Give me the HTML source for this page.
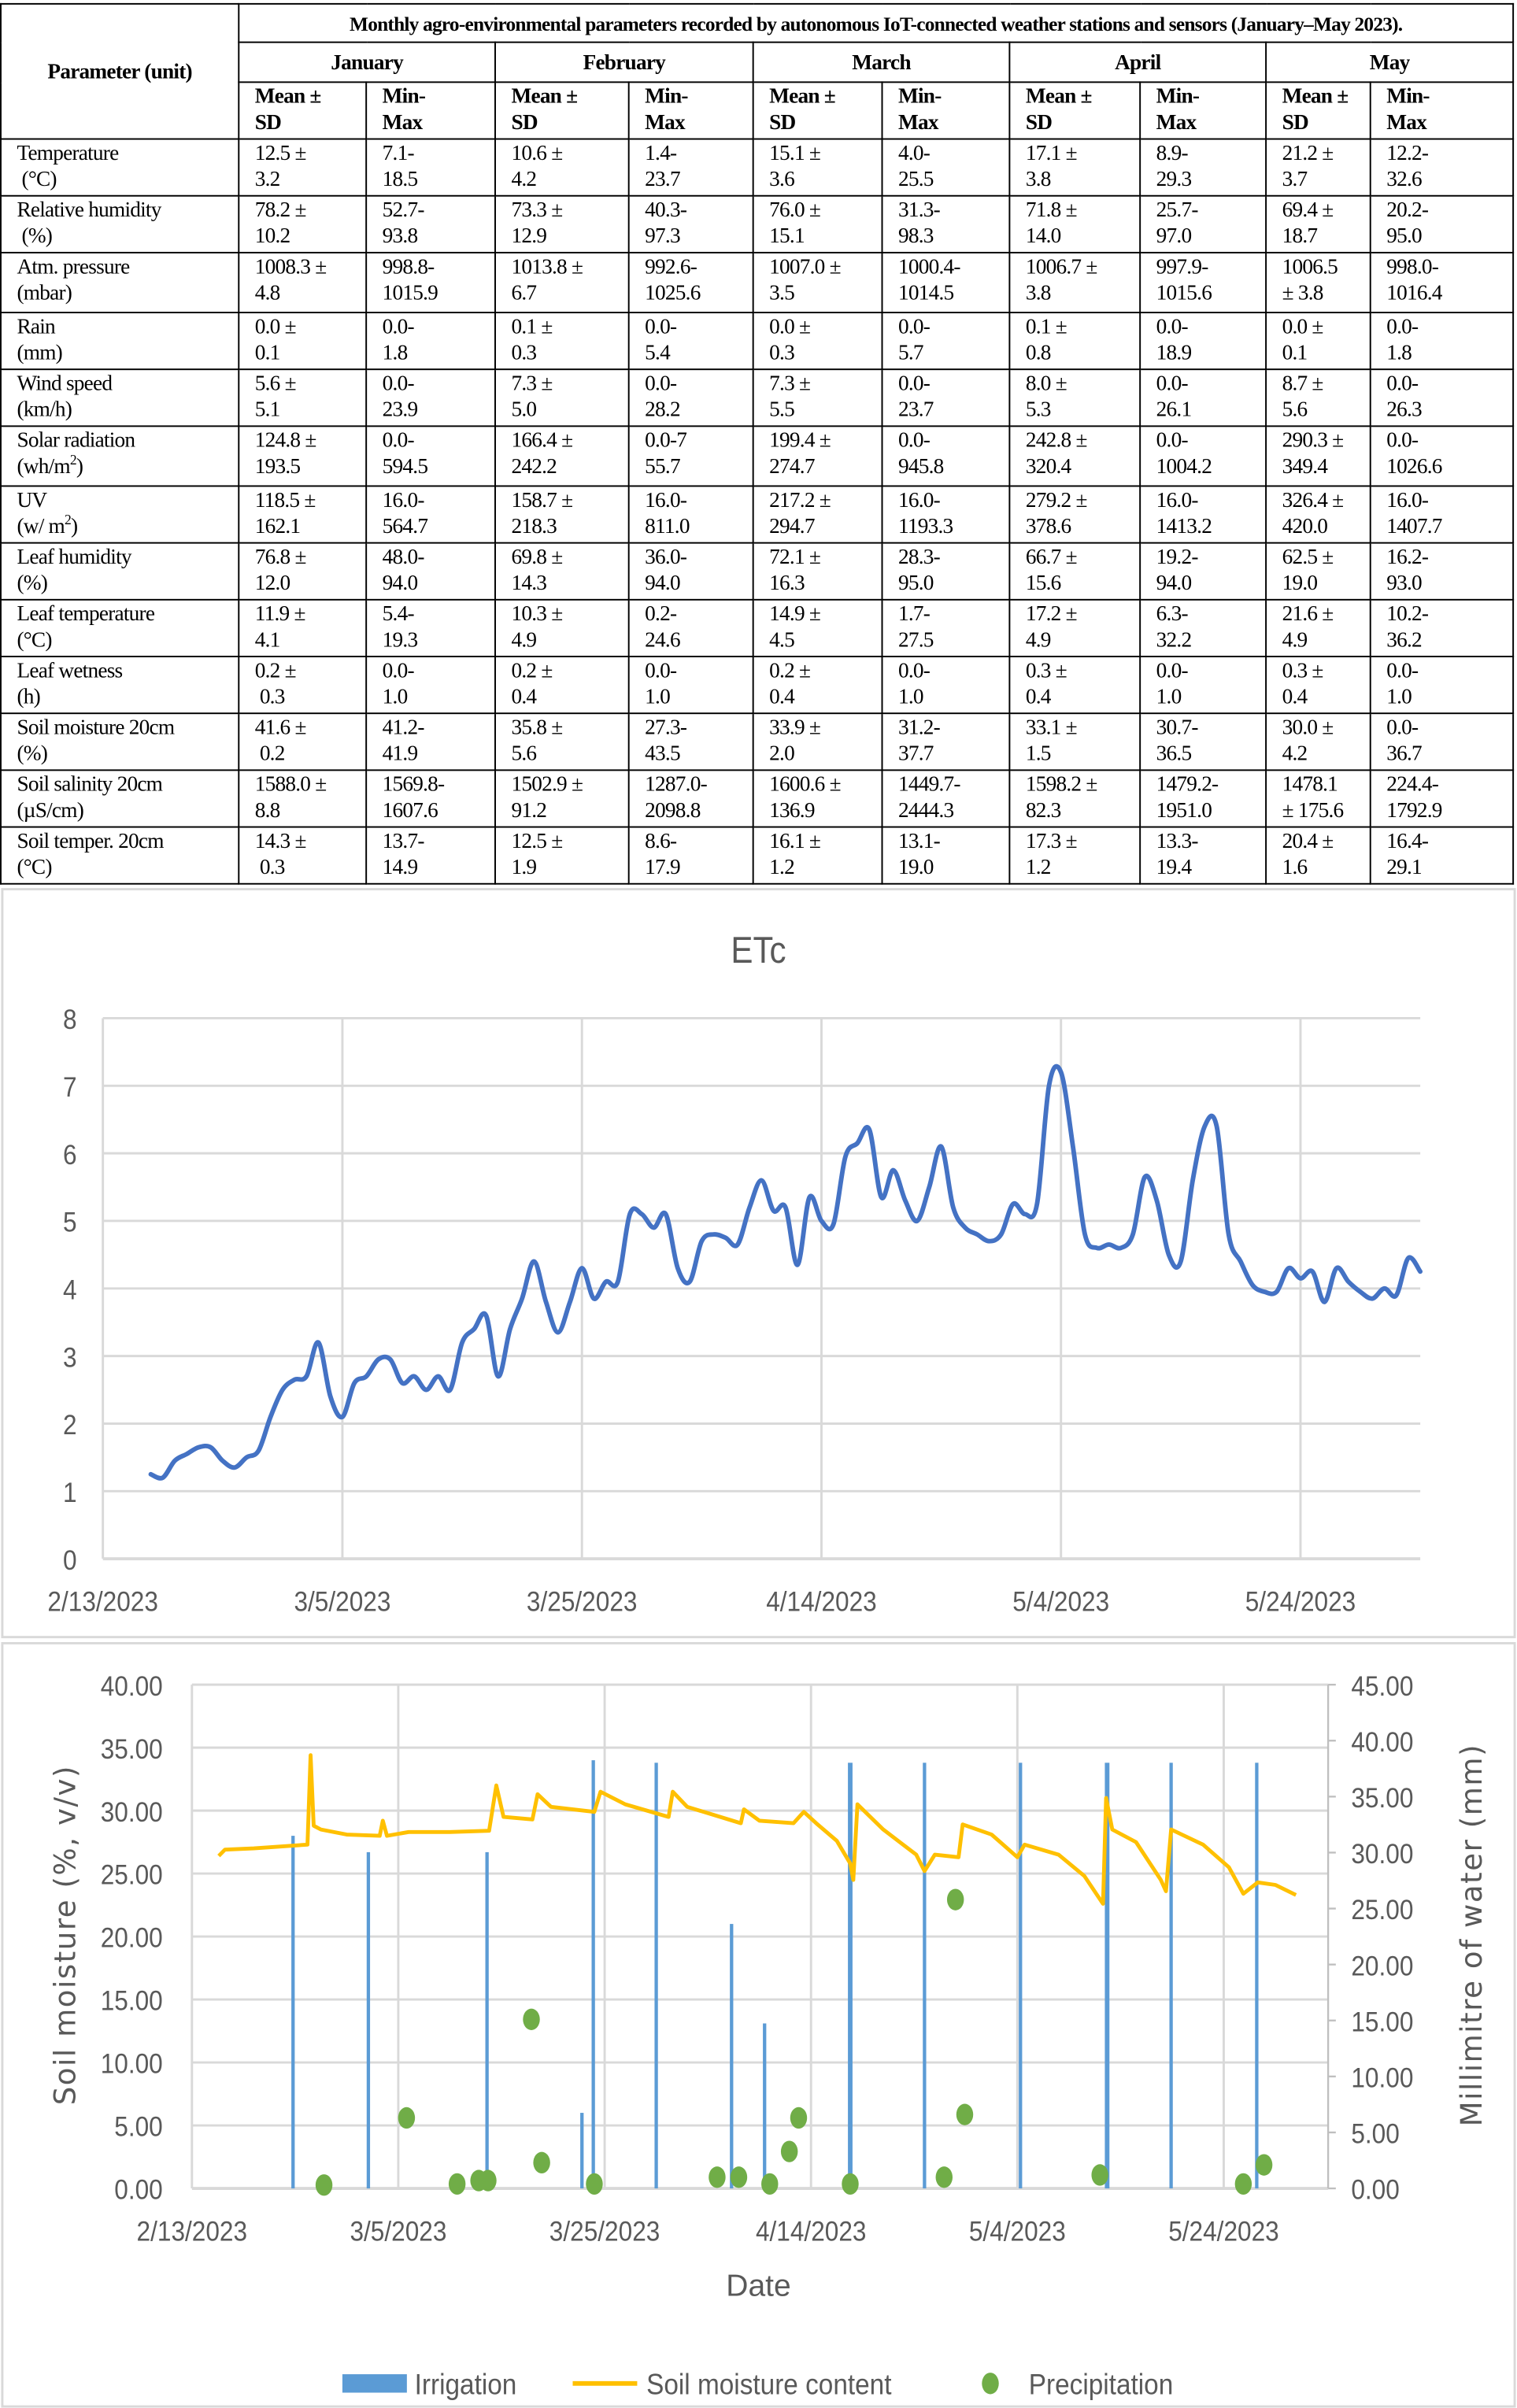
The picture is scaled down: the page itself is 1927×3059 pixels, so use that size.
<!DOCTYPE html>
<html><head><meta charset="utf-8">
<style>
html,body{margin:0;padding:0;background:#fff;}
body{width:1927px;height:3059px;overflow:hidden;position:relative;}
#wrap{position:absolute;left:0;top:0;width:988px;height:1568px;transform-origin:0 0;transform:scale(1.9504,1.9509);}
table{position:absolute;left:0;top:2px;border-collapse:collapse;table-layout:fixed;font-family:"Liberation Serif",serif;font-size:14px;line-height:17px;letter-spacing:-0.4px;color:#000;}
td,th{border:1.5px solid #000;padding:1px 0 0 10px;vertical-align:top;text-align:left;overflow:hidden;white-space:nowrap;}
th{font-weight:bold;}
th.c{text-align:center;padding-left:0;vertical-align:middle;}
.title{font-size:13px;}
svg text{font-family:"Liberation Sans",sans-serif;}
</style></head>
<body>
<div id="wrap">
<table>
<colgroup><col style="width:155px"><col style="width:83px"><col style="width:84px"><col style="width:87px"><col style="width:81px"><col style="width:84px"><col style="width:83px"><col style="width:85px"><col style="width:82px"><col style="width:68px"><col style="width:93px"></colgroup>
<tr style="height:25px"><th class="c" rowspan="3">Parameter (unit)</th><th class="c title" colspan="10">Monthly agro-environmental parameters recorded by autonomous IoT-connected weather stations and sensors (January–May 2023).</th></tr>
<tr style="height:26px"><th class="c" colspan="2">January</th><th class="c" colspan="2">February</th><th class="c" colspan="2">March</th><th class="c" colspan="2">April</th><th class="c" colspan="2">May</th></tr>
<tr style="height:37px"><th>Mean ±<br>SD</th><th>Min-<br>Max</th><th>Mean ±<br>SD</th><th>Min-<br>Max</th><th>Mean ±<br>SD</th><th>Min-<br>Max</th><th>Mean ±<br>SD</th><th>Min-<br>Max</th><th>Mean ±<br>SD</th><th>Min-<br>Max</th></tr>
<tr style="height:37px"><td>Temperature<br>&nbsp;(°C)</td><td>12.5 ±<br>3.2</td><td>7.1-<br>18.5</td><td>10.6 ±<br>4.2</td><td>1.4-<br>23.7</td><td>15.1 ±<br>3.6</td><td>4.0-<br>25.5</td><td>17.1 ±<br>3.8</td><td>8.9-<br>29.3</td><td>21.2 ±<br>3.7</td><td>12.2-<br>32.6</td></tr>
<tr style="height:37px"><td>Relative humidity<br>&nbsp;(%)</td><td>78.2 ±<br>10.2</td><td>52.7-<br>93.8</td><td>73.3 ±<br>12.9</td><td>40.3-<br>97.3</td><td>76.0 ±<br>15.1</td><td>31.3-<br>98.3</td><td>71.8 ±<br>14.0</td><td>25.7-<br>97.0</td><td>69.4 ±<br>18.7</td><td>20.2-<br>95.0</td></tr>
<tr style="height:39px"><td>Atm. pressure<br>(mbar)</td><td>1008.3 ±<br>4.8</td><td>998.8-<br>1015.9</td><td>1013.8 ±<br>6.7</td><td>992.6-<br>1025.6</td><td>1007.0 ±<br>3.5</td><td>1000.4-<br>1014.5</td><td>1006.7 ±<br>3.8</td><td>997.9-<br>1015.6</td><td>1006.5<br>± 3.8</td><td>998.0-<br>1016.4</td></tr>
<tr style="height:37px"><td>Rain<br>(mm)</td><td>0.0 ±<br>0.1</td><td>0.0-<br>1.8</td><td>0.1 ±<br>0.3</td><td>0.0-<br>5.4</td><td>0.0 ±<br>0.3</td><td>0.0-<br>5.7</td><td>0.1 ±<br>0.8</td><td>0.0-<br>18.9</td><td>0.0 ±<br>0.1</td><td>0.0-<br>1.8</td></tr>
<tr style="height:37px"><td>Wind speed<br>(km/h)</td><td>5.6 ±<br>5.1</td><td>0.0-<br>23.9</td><td>7.3 ±<br>5.0</td><td>0.0-<br>28.2</td><td>7.3 ±<br>5.5</td><td>0.0-<br>23.7</td><td>8.0 ±<br>5.3</td><td>0.0-<br>26.1</td><td>8.7 ±<br>5.6</td><td>0.0-<br>26.3</td></tr>
<tr style="height:39px"><td>Solar radiation<br>(wh/m<sup style="font-size:9px;line-height:0">2</sup>)</td><td>124.8 ±<br>193.5</td><td>0.0-<br>594.5</td><td>166.4 ±<br>242.2</td><td>0.0-7<br>55.7</td><td>199.4 ±<br>274.7</td><td>0.0-<br>945.8</td><td>242.8 ±<br>320.4</td><td>0.0-<br>1004.2</td><td>290.3 ±<br>349.4</td><td>0.0-<br>1026.6</td></tr>
<tr style="height:37px"><td>UV<br>(w/ m<sup style="font-size:9px;line-height:0">2</sup>)</td><td>118.5 ±<br>162.1</td><td>16.0-<br>564.7</td><td>158.7 ±<br>218.3</td><td>16.0-<br>811.0</td><td>217.2 ±<br>294.7</td><td>16.0-<br>1193.3</td><td>279.2 ±<br>378.6</td><td>16.0-<br>1413.2</td><td>326.4 ±<br>420.0</td><td>16.0-<br>1407.7</td></tr>
<tr style="height:37px"><td>Leaf humidity<br>(%)</td><td>76.8 ±<br>12.0</td><td>48.0-<br>94.0</td><td>69.8 ±<br>14.3</td><td>36.0-<br>94.0</td><td>72.1 ±<br>16.3</td><td>28.3-<br>95.0</td><td>66.7 ±<br>15.6</td><td>19.2-<br>94.0</td><td>62.5 ±<br>19.0</td><td>16.2-<br>93.0</td></tr>
<tr style="height:37px"><td>Leaf temperature<br>(°C)</td><td>11.9 ±<br>4.1</td><td>5.4-<br>19.3</td><td>10.3 ±<br>4.9</td><td>0.2-<br>24.6</td><td>14.9 ±<br>4.5</td><td>1.7-<br>27.5</td><td>17.2 ±<br>4.9</td><td>6.3-<br>32.2</td><td>21.6 ±<br>4.9</td><td>10.2-<br>36.2</td></tr>
<tr style="height:37px"><td>Leaf wetness<br>(h)</td><td>0.2 ±<br>&nbsp;0.3</td><td>0.0-<br>1.0</td><td>0.2 ±<br>0.4</td><td>0.0-<br>1.0</td><td>0.2 ±<br>0.4</td><td>0.0-<br>1.0</td><td>0.3 ±<br>0.4</td><td>0.0-<br>1.0</td><td>0.3 ±<br>0.4</td><td>0.0-<br>1.0</td></tr>
<tr style="height:37px"><td>Soil moisture 20cm<br>(%)</td><td>41.6 ±<br>&nbsp;0.2</td><td>41.2-<br>41.9</td><td>35.8 ±<br>5.6</td><td>27.3-<br>43.5</td><td>33.9 ±<br>2.0</td><td>31.2-<br>37.7</td><td>33.1 ±<br>1.5</td><td>30.7-<br>36.5</td><td>30.0 ±<br>4.2</td><td>0.0-<br>36.7</td></tr>
<tr style="height:37px"><td>Soil salinity 20cm<br>(µS/cm)</td><td>1588.0 ±<br>8.8</td><td>1569.8-<br>1607.6</td><td>1502.9 ±<br>91.2</td><td>1287.0-<br>2098.8</td><td>1600.6 ±<br>136.9</td><td>1449.7-<br>2444.3</td><td>1598.2 ±<br>82.3</td><td>1479.2-<br>1951.0</td><td>1478.1<br>± 175.6</td><td>224.4-<br>1792.9</td></tr>
<tr style="height:37px"><td>Soil temper. 20cm<br>(°C)</td><td>14.3 ±<br>&nbsp;0.3</td><td>13.7-<br>14.9</td><td>12.5 ±<br>1.9</td><td>8.6-<br>17.9</td><td>16.1 ±<br>1.2</td><td>13.1-<br>19.0</td><td>17.3 ±<br>1.2</td><td>13.3-<br>19.4</td><td>20.4 ±<br>1.6</td><td>16.4-<br>29.1</td></tr>
</table>
<svg id="charts" width="988" height="1568" viewBox="0 0 988 1568" style="position:absolute;left:0;top:0">
<rect x="1.5" y="579" width="985" height="487" fill="#fff" stroke="#d9d9d9" stroke-width="1.5"/>
<rect x="1.5" y="1070" width="985" height="497" fill="#fff" stroke="#d9d9d9" stroke-width="1.5"/>
<g id="etc"></g>
<g id="soil"></g>
</svg>
</div>
<script>
// ===== ETc chart data =====
const etcStartDay = 4; // days after 2/13/2023
const etcValues = [1.25,1.2,1.45,1.55,1.65,1.65,1.45,1.35,1.5,1.6,2.1,2.5,2.65,2.7,3.2,2.4,2.1,2.6,2.7,2.95,2.95,2.6,2.7,2.5,2.7,2.5,3.2,3.4,3.6,2.7,3.4,3.85,4.4,3.8,3.35,3.8,4.3,3.85,4.1,4.1,5.1,5.1,4.9,5.1,4.3,4.1,4.7,4.8,4.75,4.65,5.2,5.6,5.15,5.2,4.35,5.35,5.0,4.95,5.95,6.15,6.35,5.35,5.75,5.3,5.0,5.5,6.1,5.2,4.9,4.8,4.7,4.8,5.25,5.1,5.25,7.0,7.2,6.1,4.8,4.6,4.65,4.6,4.8,5.65,5.3,4.5,4.4,5.6,6.4,6.4,4.8,4.4,4.05,3.95,3.95,4.3,4.15,4.25,3.8,4.3,4.1,3.95,3.85,4.0,3.9,4.45,4.25];
const etcYTicks = [0,1,2,3,4,5,6,7,8];
const dateTickDays = [0,20,40,60,80,100];
const dateTickLabels = ["2/13/2023","3/5/2023","3/25/2023","4/14/2023","5/4/2023","5/24/2023"];

// ===== Soil chart data =====
const irrigationDays = [9.8,17.1,28.6,37.8,38.9,45,52.3,55.5,63.8,71,80.3,88.7,94.9,103.2];
const irrigationValues = [28.0,26.7,26.7,6.0,34.0,33.8,21.0,13.1,33.8,33.8,33.8,33.8,33.8,33.8];
const precipDays = [12.8,20.8,25.7,27.8,28.7,32.9,33.9,39,50.9,53,56,57.9,58.8,63.8,72.9,74,74.9,88,101.9,103.9];
const precipValues = [0.3,6.3,0.4,0.7,0.7,15.1,2.3,0.4,1.0,1.0,0.4,3.3,6.3,0.4,1.0,25.8,6.6,1.2,0.4,2.1];
const moistureDays = [2.6,3.2,6,11.2,11.5,11.8,12.5,15,18.2,18.5,18.9,21,25,28.8,29.5,30.2,33,33.5,34.8,39,39.6,42,46.2,46.6,48,53.2,53.5,55,58.3,59.3,60.5,62.5,63.8,64.1,64.5,67,70.2,71,72,74.3,74.7,77.5,80,80.7,84,86.5,88.3,88.6,89.2,91.5,93.9,94.4,94.9,98,100.5,101.9,103.3,105,107];
const moistureValues = [26.4,26.9,27.0,27.3,34.4,28.8,28.5,28.1,28.0,29.2,28.0,28.3,28.3,28.4,32.0,29.5,29.3,31.3,30.3,29.9,31.5,30.5,29.5,31.5,30.3,29.0,30.1,29.2,29.0,29.9,29.0,27.6,25.8,24.5,30.5,28.5,26.5,25.2,26.5,26.3,28.9,28.1,26.3,27.3,26.5,24.8,22.6,31.0,28.5,27.5,24.5,23.6,28.5,27.3,25.5,23.4,24.3,24.1,23.3];
const leftTicks = [0,5,10,15,20,25,30,35,40];
const rightTicks = [0,5,10,15,20,25,30,35,40,45];

const NS = "http://www.w3.org/2000/svg";
function mk(parent, tag, attrs, txt){const e=document.createElementNS(NS,tag);for(const k in attrs)e.setAttribute(k,attrs[k]);if(txt!==undefined)e.textContent=txt;parent.appendChild(e);return e;}
function cond(el,x,y){el.setAttribute('transform','translate('+x+','+y+') scale(0.9,1) translate('+(-x)+','+(-y)+')');}

// ---- ETc axes ----
const eX0=67,eX1=925,eY0=1015,eY1=663,ePxDay=7.8;
const ex=d=>eX0+d*ePxDay;
const ey=v=>eY0-(v/8)*(eY0-eY1);
const etc=document.getElementById('etc');
let t=mk(etc,'text',{x:494,y:627,'text-anchor':'middle','font-size':24,fill:'#595959'},'ETc');


cond(t,494,627);
etcYTicks.forEach(v=>{
  const l=mk(etc,'line',{x1:eX0,x2:eX1,y1:ey(v),y2:ey(v),stroke:'#d9d9d9','stroke-width':v===0?2:1.5});
  
  
  const tx=mk(etc,'text',{x:50,y:ey(v)+7,'text-anchor':'end','font-size':18,fill:'#595959'},String(v));
  
  
  cond(tx,50,ey(v)+7);
});
dateTickDays.forEach((d,i)=>{
  const l=mk(etc,'line',{x1:ex(d),x2:ex(d),y1:eY1,y2:eY0,stroke:'#d9d9d9','stroke-width':1.5});
  
  
  const tx=mk(etc,'text',{x:ex(d),y:1049,'text-anchor':'middle','font-size':18,fill:'#595959'},dateTickLabels[i]);
  
  
  cond(tx,ex(d),1049);
});
const pts=etcValues.map((v,i)=>[ex(etcStartDay+i),ey(v)]);
let dstr='M'+pts[0][0]+','+pts[0][1];
for(let i=0;i<pts.length-1;i++){
  const p0=pts[Math.max(0,i-1)],p1=pts[i],p2=pts[i+1],p3=pts[Math.min(pts.length-1,i+2)];
  const c1=[p1[0]+(p2[0]-p0[0])/6,p1[1]+(p2[1]-p0[1])/6];
  const c2=[p2[0]-(p3[0]-p1[0])/6,p2[1]-(p3[1]-p1[1])/6];
  dstr+=' C'+c1[0].toFixed(2)+','+c1[1].toFixed(2)+' '+c2[0].toFixed(2)+','+c2[1].toFixed(2)+' '+p2[0].toFixed(2)+','+p2[1].toFixed(2);
}
const etcLine=mk(etc,'path',{d:dstr,fill:'none',stroke:'#4472C4','stroke-width':3,'stroke-linejoin':'round','stroke-linecap':'round'});



// ---- Soil chart axes ----
const sX0=125,sX1=865,sY0=1425,sY1=1097,sPxDay=6.72;
const sx=d=>sX0+d*sPxDay;
const syL=v=>sY0-(v/40)*(sY0-sY1);
const syR=v=>sY0-(v/45)*(sY0-sY1);
const soil=document.getElementById('soil');
leftTicks.forEach(v=>{
  const l=mk(soil,'line',{x1:sX0,x2:sX1,y1:syL(v),y2:syL(v),stroke:'#d9d9d9','stroke-width':v===0?2:1.5});
  
  
  const tx=mk(soil,'text',{x:106,y:syL(v)+7,'text-anchor':'end','font-size':18,fill:'#595959'},v.toFixed(2));
  
  
  cond(tx,106,syL(v)+7);
});
rightTicks.forEach(v=>{
  const l=mk(soil,'line',{x1:sX1,x2:sX1+5,y1:syR(v),y2:syR(v),stroke:'#bfbfbf','stroke-width':1.2});
  
  
  const tx=mk(soil,'text',{x:880,y:syR(v)+7,'text-anchor':'start','font-size':18,fill:'#595959'},v.toFixed(2));
  
  
  cond(tx,880,syR(v)+7);
});
const ra=mk(soil,'line',{x1:sX1,x2:sX1,y1:sY1,y2:sY0,stroke:'#bfbfbf','stroke-width':1.2});


dateTickDays.forEach((d,i)=>{
  const l=mk(soil,'line',{x1:sx(d),x2:sx(d),y1:sY1,y2:sY0,stroke:'#d9d9d9','stroke-width':1.5});
  
  
  const tx=mk(soil,'text',{x:sx(d),y:1459,'text-anchor':'middle','font-size':18,fill:'#595959'},dateTickLabels[i]);
  
  
  cond(tx,sx(d),1459);
});
irrigationDays.forEach((d,i)=>{
  const w=(i===8||i===11)?3:2.2;
  const b=mk(soil,'rect',{x:sx(d)-w/2,y:syL(irrigationValues[i]),width:w,height:sY0-syL(irrigationValues[i]),fill:'#5B9BD5'});
  
  
});
const mp=moistureDays.map((d,i)=>sx(d).toFixed(2)+','+syL(moistureValues[i]).toFixed(2)).join(' ');
const ml=mk(soil,'polyline',{points:mp,fill:'none',stroke:'#FFC000','stroke-width':2.5,'stroke-linejoin':'round'});


precipDays.forEach((d,i)=>{
  const c=mk(soil,'ellipse',{cx:sx(d),cy:syR(precipValues[i]),rx:5.5,ry:7,fill:'#70AD47'});
  
  
});
let at=mk(soil,'text',{x:0,y:0,'text-anchor':'middle','font-size':19,fill:'#595959','letter-spacing':'0.8',transform:'translate(49,1260) rotate(-90)',style:'font-family:"DejaVu Sans",sans-serif'},'Soil moisture (%, v/v)');


at=mk(soil,'text',{x:0,y:0,'text-anchor':'middle','font-size':19,fill:'#595959','letter-spacing':'0.8',transform:'translate(965,1260) rotate(-90)',style:'font-family:"DejaVu Sans",sans-serif'},'Millimitre of water (mm)');


at=mk(soil,'text',{x:494,y:1495,'text-anchor':'middle','font-size':20,fill:'#595959'},'Date');


const lg=mk(soil,'g',{});


let e=mk(lg,'rect',{x:223,y:1546,width:42,height:12,fill:'#5B9BD5'});


e=mk(lg,'text',{x:270,y:1559,'font-size':19,fill:'#595959'},'Irrigation');


cond(e,270,1559);
e=mk(lg,'line',{x1:373,x2:415,y1:1552,y2:1552,stroke:'#FFC000','stroke-width':3});


e=mk(lg,'text',{x:421,y:1559,'font-size':19,fill:'#595959'},'Soil moisture content');


cond(e,421,1559);
e=mk(lg,'ellipse',{cx:645,cy:1552,rx:5.5,ry:7,fill:'#70AD47'});


e=mk(lg,'text',{x:670,y:1559,'font-size':19,fill:'#595959'},'Precipitation');


cond(e,670,1559);
</script>
</body></html>
